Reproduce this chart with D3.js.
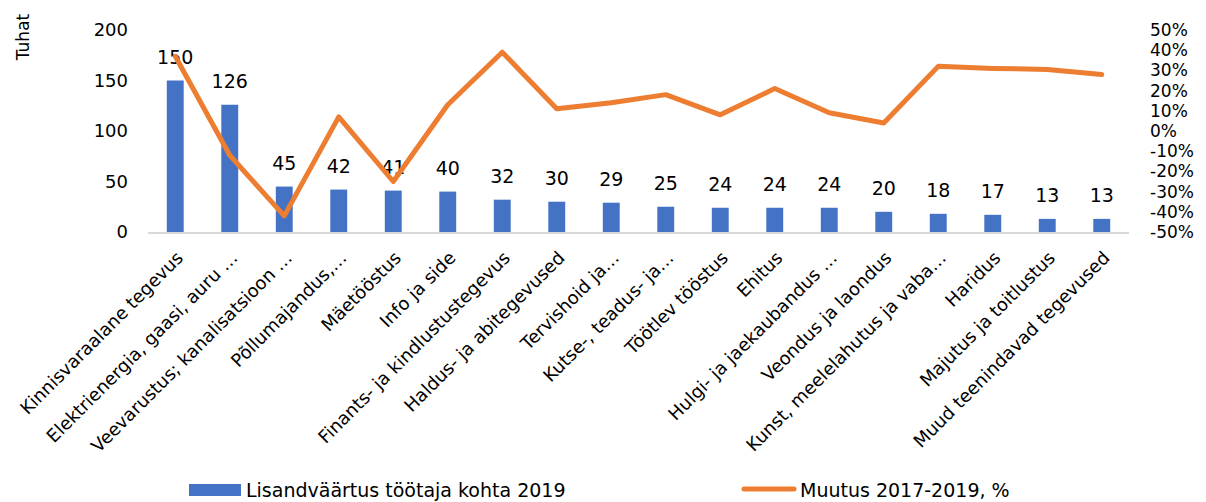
<!DOCTYPE html>
<html>
<head>
<meta charset="utf-8">
<script src="https://cdn.jsdelivr.net/npm/d3@7"></script>
<style>
  body { margin: 0; background: #fff; }
  svg text { font-family: "DejaVu Sans", sans-serif; fill: #000; }
</style>
</head>
<body>
<div id="chart"></div>
<script>
const categories = [
  'Kinnisvaraalane tegevus', 'Elektrienergia, gaasi, auru …', 'Veevarustus; kanalisatsioon …',
  'Põllumajandus,…', 'Mäetööstus', 'Info ja side', 'Finants- ja kindlustustegevus',
  'Haldus- ja abitegevused', 'Tervishoid ja…', 'Kutse-, teadus- ja…', 'Töötlev tööstus',
  'Ehitus', 'Hulgi- ja jaekaubandus …', 'Veondus ja laondus', 'Kunst, meelelahutus ja vaba…',
  'Haridus', 'Majutus ja toitlustus', 'Muud teenindavad tegevused'
]
const valueAdded = [150, 126, 45, 42, 41, 40, 32, 30, 29, 25, 24, 24, 24, 20, 18, 17, 13, 13]
const change = [0.37, -0.12, -0.42, 0.07, -0.25, 0.13, 0.39, 0.11, 0.14, 0.18, 0.08, 0.21, 0.09, 0.04, 0.32, 0.31, 0.305, 0.28]
const leftTicks = [0, 50, 100, 150, 200]
const rightTicks = [-0.5, -0.4, -0.3, -0.2, -0.1, 0, 0.1, 0.2, 0.3, 0.4, 0.5]

const width = 1206, height = 502

const svg = d3.select('#chart').append('svg')
  .attr('width', width)
  .attr('height', height)

const x = d3.scaleBand()
  .domain(categories)
  .range([148, 1129])
  .paddingInner(0.69)
  .paddingOuter(0.345)

const y = d3.scaleLinear().domain([0, 200]).range([232, 30])
const y2 = d3.scaleLinear().domain([-0.5, 0.5]).range([232, 30])

// left axis
const leftAxis = svg.append('g')
  .attr('transform', 'translate(138,0)')
  .call(d3.axisLeft(y).tickValues(leftTicks).tickSize(0).tickPadding(10))
leftAxis.select('.domain').remove()
leftAxis.selectAll('text').style('font-size', '18px').attr('fill', '#000')

// right axis, hyphen minus like the original
const rightAxis = svg.append('g')
  .attr('transform', 'translate(1140,0)')
  .call(d3.axisRight(y2).tickValues(rightTicks).tickSize(0).tickPadding(10)
    .tickFormat(d => Math.round(d * 100) + '%'))
rightAxis.select('.domain').remove()
rightAxis.selectAll('text').style('font-size', '17px').attr('fill', '#000')

svg.append('text')
  .attr('transform', 'translate(29,37) rotate(-90)')
  .attr('text-anchor', 'middle')
  .style('font-size', '17px')
  .text('Tuhat')

// bars
svg.append('g').selectAll('rect')
  .data(valueAdded)
  .enter()
  .append('rect')
  .attr('x', (d, i) => x(categories[i]))
  .attr('y', d => y(d))
  .attr('width', x.bandwidth())
  .attr('height', d => y(0) - y(d))
  .attr('fill', '#4472C4')

// category axis line
svg.append('line')
  .attr('x1', x.range()[0]).attr('x2', x.range()[1])
  .attr('y1', y(0) + 1).attr('y2', y(0) + 1)
  .attr('stroke', '#d9d9d9')
  .attr('stroke-width', 2)

// bar labels
svg.append('g').selectAll('text')
  .data(valueAdded)
  .enter()
  .append('text')
  .attr('x', (d, i) => x(categories[i]) + x.bandwidth() / 2)
  .attr('y', d => y(d) - 17)
  .attr('text-anchor', 'middle')
  .style('font-size', '19px')
  .text(d => d)

// change line
const line = d3.line()
  .x((d, i) => x(categories[i]) + x.bandwidth() / 2)
  .y(d => y2(d))

svg.append('path')
  .datum(change)
  .attr('d', line)
  .attr('fill', 'none')
  .attr('stroke', '#ED7D31')
  .attr('stroke-width', 5)
  .attr('stroke-linecap', 'round')
  .attr('stroke-linejoin', 'round')

// category labels
svg.append('g').selectAll('text')
  .data(categories)
  .enter()
  .append('text')
  .attr('transform', d => `translate(${x(d) + x.bandwidth() / 2 + 9},259) rotate(-45)`)
  .attr('text-anchor', 'end')
  .style('font-size', '18px')
  .text(d => d)

// legend
const legend = svg.append('g')
legend.append('rect')
  .attr('x', 189).attr('y', 484)
  .attr('width', 52).attr('height', 12)
  .attr('fill', '#4472C4')
legend.append('text')
  .attr('x', 246).attr('y', 497)
  .style('font-size', '19px')
  .text('Lisandväärtus töötaja kohta 2019')
legend.append('line')
  .attr('x1', 744).attr('x2', 794)
  .attr('y1', 489).attr('y2', 489)
  .attr('stroke', '#ED7D31')
  .attr('stroke-width', 5)
  .attr('stroke-linecap', 'round')
legend.append('text')
  .attr('x', 800).attr('y', 497)
  .style('font-size', '19px')
  .text('Muutus 2017-2019, %')
</script>
</body>
</html>
